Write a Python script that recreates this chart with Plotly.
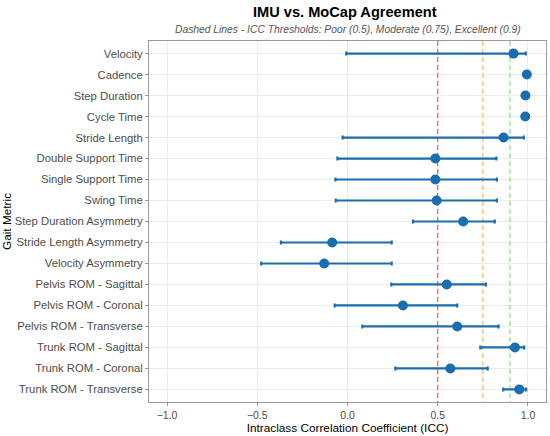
import plotly.graph_objects as go

# ICC estimates with 95% confidence intervals
metrics = [
    "Velocity", "Cadence", "Step Duration", "Cycle Time", "Stride Length",
    "Double Support Time", "Single Support Time", "Swing Time",
    "Step Duration Asymmetry", "Stride Length Asymmetry", "Velocity Asymmetry",
    "Pelvis ROM - Sagittal", "Pelvis ROM - Coronal", "Pelvis ROM - Transverse",
    "Trunk ROM - Sagittal", "Trunk ROM - Coronal", "Trunk ROM - Transverse",
]
icc = [0.92, 0.994, 0.986, 0.985, 0.865, 0.487, 0.487, 0.494, 0.641, -0.085,
       -0.129, 0.550, 0.307, 0.608, 0.928, 0.570, 0.952]
ci_low = [-0.007, 0.988, 0.978, 0.977, -0.027, -0.056, -0.067, -0.065, 0.363,
          -0.369, -0.478, 0.243, -0.071, 0.082, 0.736, 0.265, 0.863]
ci_high = [0.988, 0.997, 0.992, 0.991, 0.977, 0.825, 0.828, 0.828, 0.816,
           0.245, 0.245, 0.767, 0.608, 0.837, 0.979, 0.777, 0.990]

thresholds = [0.5, 0.75, 0.9]
threshold_colors = ["#EC6464", "#F8BC74", "#8EE285"]

blue = "#1A6DAE"
font = "Liberation Sans, Arial, sans-serif"

n = len(metrics)
pos = list(range(n))
y_lo, y_hi = -0.6, n - 1 + 0.6

fig = go.Figure()

# threshold lines as traces so they sit above the grid but under the points
for t, c in zip(thresholds, threshold_colors):
    fig.add_trace(go.Scatter(
        x=[t, t], y=[y_lo, y_hi], mode="lines",
        line=dict(color=c, width=1.3, dash="5px,3px"),
        hoverinfo="skip", showlegend=False,
    ))

fig.add_trace(go.Scatter(
    x=icc, y=pos, mode="markers",
    marker=dict(color=blue, size=10),
    error_x=dict(
        type="data", symmetric=False,
        array=[h - v for h, v in zip(ci_high, icc)],
        arrayminus=[v - l for v, l in zip(icc, ci_low)],
        color=blue, thickness=2.2, width=2,
    ),
    text=metrics, showlegend=False,
))

fig.update_layout(
    width=550, height=436,
    margin=dict(l=143, r=3, t=41, b=34),
    plot_bgcolor="white", paper_bgcolor="white",
    font=dict(family=font, color="#4d4d4d", size=11.3),
    title=dict(text="<b>IMU vs. MoCap Agreement</b>", x=0.627, xanchor="center",
               y=0.972, yanchor="middle", font=dict(size=14.6, color="black", family=font)),
    annotations=[dict(
        text="<i>Dashed Lines - ICC Thresholds: Poor (0.5), Moderate (0.75), Excellent (0.9)</i>",
        xref="paper", yref="paper", x=0.5, y=1.0, yshift=4, xanchor="center", yanchor="bottom",
        showarrow=False, font=dict(size=10.3, color="#555555", family=font),
    )],
    xaxis=dict(
        range=[-1.1, 1.1], tickvals=[-1, -0.5, 0, 0.5, 1], tickformat=".1f",
        tickfont=dict(size=10.5),
        showgrid=True, gridcolor="#ebebeb", gridwidth=1, zeroline=False,
        showline=True, linecolor="#9a9a9a", mirror=True, linewidth=1,
        ticks="outside", ticklen=3, tickcolor="#9a9a9a",
        title=dict(text="Intraclass Correlation Coefficient (ICC)", standoff=3,
                   font=dict(size=11.8, color="black", family=font)),
    ),
    yaxis=dict(
        range=[y_hi, y_lo], tickvals=pos, ticktext=metrics,
        showgrid=True, gridcolor="#ebebeb", gridwidth=1, zeroline=False,
        showline=True, linecolor="#9a9a9a", mirror=True, linewidth=1,
        ticks="outside", ticklen=3, tickcolor="#9a9a9a",
        title=dict(text="Gait Metric", standoff=3,
                   font=dict(size=11.8, color="black", family=font)),
    ),
)

# drop the browser's default body margin so the figure fills the window
fig.write_html("out.html", config={"displayModeBar": False},
               post_script="document.body.style.margin='0';")
